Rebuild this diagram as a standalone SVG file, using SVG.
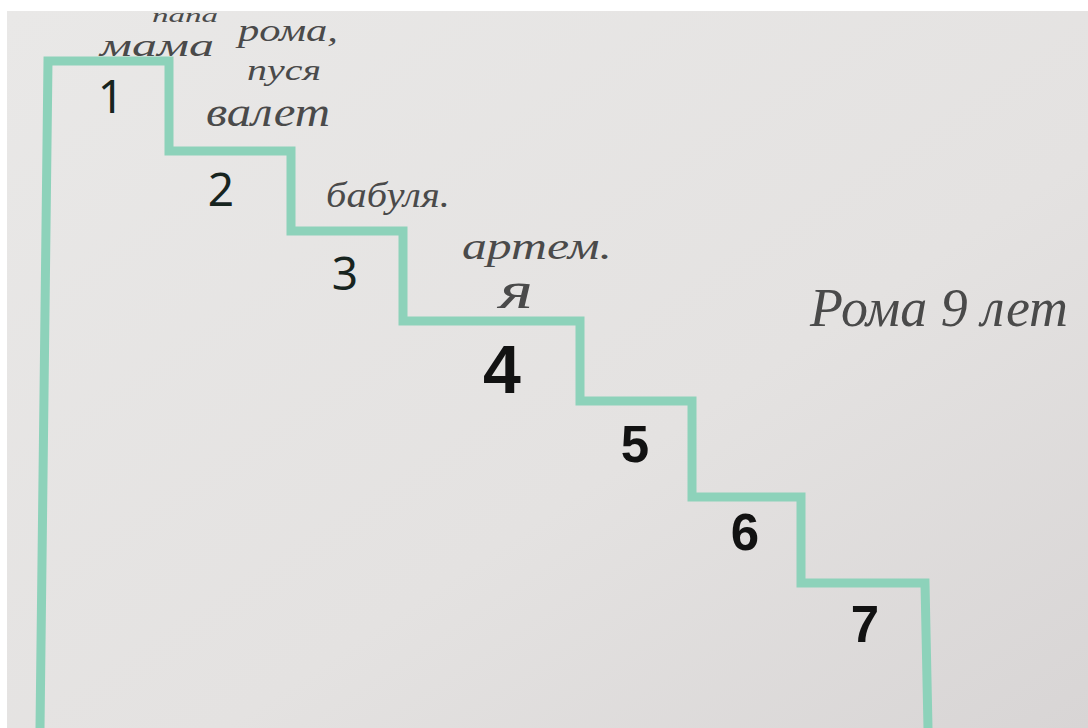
<svg xmlns="http://www.w3.org/2000/svg" width="1088" height="728" viewBox="0 0 1088 728">
  <defs>
    <linearGradient id="paper" x1="0" y1="0" x2="1" y2="1">
      <stop offset="0" stop-color="#e9e8e7"/>
      <stop offset="0.6" stop-color="#e4e2e1"/>
      <stop offset="1" stop-color="#d8d5d5"/>
    </linearGradient>
  </defs>
  <style>
    .stair { fill: none; stroke: #8dd2ba; stroke-width: 9; stroke-linejoin: miter; }
    .num-thin { font-family: "Noto Sans", "Open Sans", sans-serif; font-size: 46px; fill: #17241f; text-anchor: middle; }
    .num-bold { font-family: "Liberation Sans", Arial, sans-serif; font-weight: bold; fill: #121212; text-anchor: middle; }
    .hand { font-family: "Liberation Serif", "DejaVu Serif", serif; font-style: italic; fill: #4a4a4a; }
  </style>
  <rect x="0" y="0" width="1088" height="728" fill="#ffffff"/>
  <rect x="7" y="11" width="1081" height="717" fill="url(#paper)"/>

  <g id="staircase">
    <path class="stair" d="M40,728 L48,61 L169,61 L169,151 L291,151 L291,231 L403,231 L403,321 L580,321 L580,401 L692,401 L692,497 L801,497 L801,583 L925,583 L928,728"/>
  </g>

  <g id="step-1"><text class="num-thin" x="111" y="113">1</text></g>
  <g id="step-2"><text class="num-thin" x="221" y="206">2</text></g>
  <g id="step-3"><text class="num-thin" x="345" y="290">3</text></g>
  <g id="step-4"><text class="num-bold" x="502" y="393" font-size="68">4</text></g>
  <g id="step-5"><text class="num-bold" x="635" y="462" font-size="51">5</text></g>
  <g id="step-6"><text class="num-bold" x="745" y="550" font-size="51">6</text></g>
  <g id="step-7"><text class="num-bold" x="865" y="642" font-size="51">7</text></g>

  <g id="notes">
    <text class="hand" x="152" y="22" font-size="18" textLength="66" lengthAdjust="spacingAndGlyphs">папа</text>
    <text class="hand" x="100" y="56" font-size="32" textLength="114" lengthAdjust="spacingAndGlyphs">мама</text>
    <text class="hand" x="238" y="41" font-size="32" textLength="100" lengthAdjust="spacingAndGlyphs">рома,</text>
    <text class="hand" x="247" y="80" font-size="30" textLength="74" lengthAdjust="spacingAndGlyphs">пуся</text>
    <text class="hand" x="206" y="126" font-size="42" textLength="124" lengthAdjust="spacingAndGlyphs">валет</text>
    <text class="hand" x="326" y="207" font-size="36" textLength="124" lengthAdjust="spacingAndGlyphs">бабуля.</text>
    <text class="hand" x="462" y="259" font-size="38" textLength="150" lengthAdjust="spacingAndGlyphs">артем.</text>
    <text class="hand" x="499" y="308" font-size="52" textLength="34" lengthAdjust="spacingAndGlyphs">я</text>
    <text class="hand" x="810" y="326" font-size="54" textLength="258" lengthAdjust="spacingAndGlyphs">Рома 9 лет</text>
  </g>
</svg>
